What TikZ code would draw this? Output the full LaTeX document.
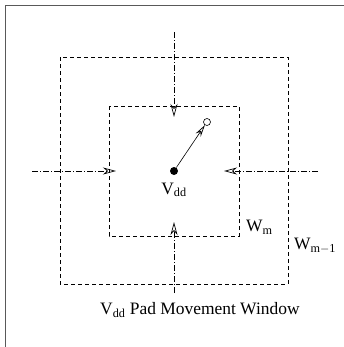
\documentclass[tikz,border=0pt]{standalone}
\usepackage{fontspec}
\setmainfont{Liberation Serif}
\usetikzlibrary{arrows.meta}
\begin{document}
\begin{tikzpicture}[x=1bp,y=-1bp,
  win/.style={draw, dashed, dash pattern=on 4bp off 3bp, line width=0.6bp},
  axis/.style={draw, line width=0.5bp, dash pattern=on 6bp off 2bp on 1bp off 2bp,
    -{Stealth[open, length=13bp, width=7bp, inset=4bp, line width=0.7bp]}},
  lbl/.style={inner sep=0pt, font=\fontsize{17.5}{20}\selectfont}]
\useasboundingbox (0,0) rectangle (344,347);
\draw[gray!70!black, line width=1bp] (5,347) -- (5,5) -- (344,5);
\draw[win] (60,57) rectangle (288,284);
\draw[win] (109,106) rectangle (239,236);
\node[circle, fill, inner sep=0pt, minimum size=8bp] (dot) at (174,171) {};
\node[circle, draw, fill=white, inner sep=0pt, minimum size=7bp, line width=0.6bp] (oc) at (207,122) {};
\draw[line width=0.6bp, -{Stealth[open, length=12bp, width=6bp, inset=4bp, line width=0.7bp]}] (dot) -- (oc);
\coordinate (t0) at (174,32); \coordinate (t1) at (174,117);
\coordinate (b0) at (174,293); \coordinate (b1) at (174,222);
\coordinate (l0) at (32,171); \coordinate (l1) at (116,171);
\coordinate (r0) at (318,171); \coordinate (r1) at (224,171);
\draw[axis] (t0) -- (t1);
\draw[axis] (b0) -- (b1);
\draw[axis] (l0) -- (l1);
\draw[axis] (r0) -- (r1);
\node[lbl] (vdd) at (174,190) {V\textsubscript{dd}};
\node[lbl, anchor=west] (wm) at (246,227) {W\textsubscript{m}};
\node[lbl, anchor=west] (wm1) at (294,246) {W\textsubscript{m$-$1}};
\node[lbl, anchor=west] (cap) at (100,310) {V\textsubscript{dd} Pad Movement Window};
\end{tikzpicture}
\end{document}
